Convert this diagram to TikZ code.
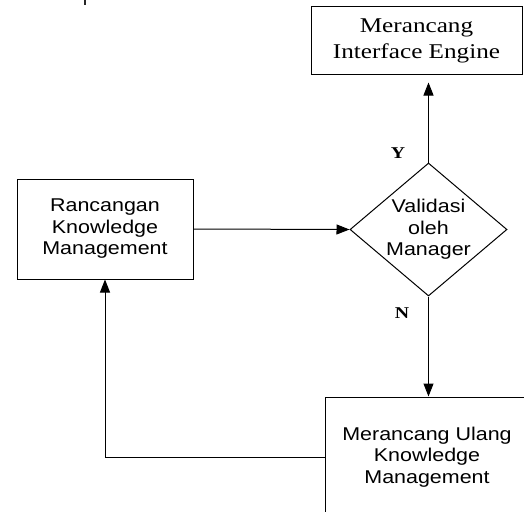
\documentclass[tikz,border=0pt]{standalone}
\usepackage{fontspec}
\usetikzlibrary{arrows.meta,shapes.geometric}
\newfontfamily\boxsans[FakeStretch=1.16]{Liberation Sans}
\newfontfamily\boxserif[FakeStretch=1.2]{Liberation Serif}

\begin{document}
\begin{tikzpicture}[x=1pt,y=-1pt,
  line width=1pt,
  sansbox/.style={draw, rectangle, inner sep=0pt, align=center,
    font=\boxsans\fontsize{18.5}{21.5}\selectfont},
  serifbox/.style={draw, rectangle, inner sep=0pt, align=center,
    font=\boxserif\fontsize{21}{26}\selectfont},
  decision/.style={draw, diamond, inner sep=0pt, minimum width=157pt, minimum height=133pt},
  dectext/.style={align=center, inner sep=0pt, font=\boxsans\fontsize{18.5}{21.5}\selectfont},
  branch/.style={inner sep=0pt, font=\boxserif\bfseries\fontsize{16.5}{18}\selectfont},
  arr/.style={-{Triangle[length=13pt,width=10pt]}}
]
\useasboundingbox (0,0) rectangle (524,511);
\clip (0,0) rectangle (524,511);
\fill[white] (0,0) rectangle (524,511);

% small mark at the upper edge
\coordinate (marktop) at (84.5,0);
\coordinate (markbot) at (84.5,5);
\draw[line width=2pt, black!85] (marktop) -- (markbot);

% boxes
\node[serifbox, minimum width=211pt, minimum height=67pt] (iface) at (416.5,40.5)
  {Merancang\\Interface Engine};
\node[sansbox, minimum width=176pt, minimum height=100pt] (km) at (105,229)
  {Rancangan\\Knowledge\\Management};
\node[decision, label={[dectext]center:Validasi\\oleh\\Manager}] (val) at (428.5,229.5) {};
\node[sansbox, minimum width=204pt, minimum height=120pt] (redo) at (427,457)
  {Merancang Ulang\\Knowledge\\Management};

% connectors
\draw[arr, shorten >=8pt] (val.north) -- (val.north |- iface.south);
\draw[arr] (km.east) -- (val.west);
\draw[arr] (val.south) -- (val.south |- redo.north);
\draw[arr] (redo.west) -| (km.south);

% branch labels
\node[branch] (yes) at (398,153.5) {Y};
\node[branch] (no) at (402,313.5) {N};
\end{tikzpicture}
\end{document}
